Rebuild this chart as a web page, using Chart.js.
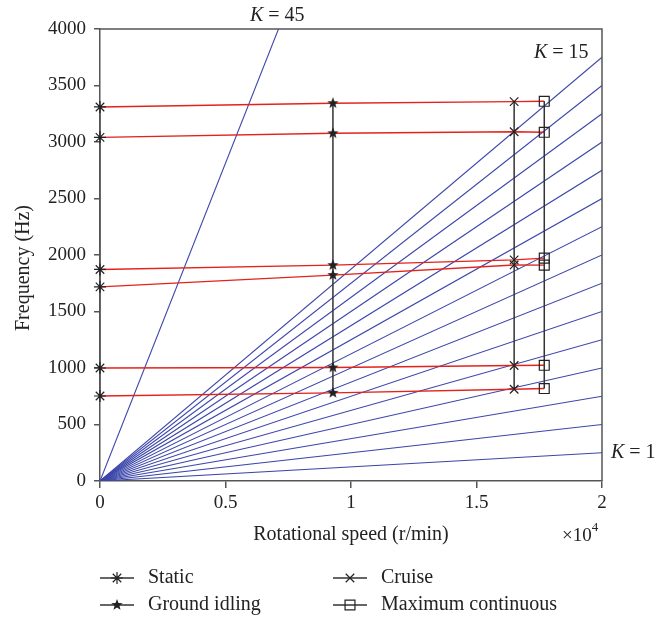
<!DOCTYPE html>
<html>
<head>
<meta charset="utf-8">
<script src="https://cdn.jsdelivr.net/npm/chart.js@4.4.1/dist/chart.umd.min.js"></script>
<style>
 html, body { margin: 0; padding: 0; background: #fff; }
 #wrap { width: 656px; height: 622px; }
</style>
</head>
<body>
<div id="wrap"><canvas id="campbell" width="656" height="622"></canvas></div>
<script>
// operating conditions and their rotational speeds (r/min)
var conditions = ['Static', 'Ground idling', 'Cruise', 'Maximum continuous'];
var speeds = [0, 9280, 16500, 17700];

// natural frequencies (Hz) of each mode at the four conditions
var mode1 = [3310, 3343, 3357, 3360];
var mode2 = [3041, 3077, 3091, 3086];
var mode3 = [1872, 1910, 1957, 1972];
var mode4 = [1718, 1822, 1912, 1910];
var mode5 = [1000, 1004, 1022, 1024];
var mode6 = [752, 780, 812, 818];
var modes = [mode1, mode2, mode3, mode4, mode5, mode6];

// excitation orders K and their frequency at 20000 r/min
var orders = [1, 2, 3, 4, 5, 6, 7, 8, 9, 10, 11, 12, 13, 14, 15, 45];
var orderEndFreq = [250, 500, 750, 1000, 1250, 1500, 1750, 2000, 2250, 2500, 2750, 3000, 3250, 3500, 3750, 11250];
var speedMax = 20000;

var yTicks = [0, 500, 1000, 1500, 2000, 2500, 3000, 3500, 4000];
var xTicks = [0, 5000, 10000, 15000, 20000];

var serif = '"Liberation Serif", "Times New Roman", serif';
var blue = '#3c46aa';
var red = '#e3231b';
var black = '#333';
var axisGrey = '#555';

// small filled five-point star for ground idling
function makeStar(r) {
  var c = document.createElement('canvas');
  var s = Math.ceil(r * 2 + 2);
  c.width = s; c.height = s;
  var g = c.getContext('2d');
  g.fillStyle = '#222';
  g.beginPath();
  for (var i = 0; i < 10; i++) {
    var rad = i % 2 === 0 ? r : r * 0.42;
    var a = -Math.PI / 2 + i * Math.PI / 5;
    var px = s / 2 + rad * Math.cos(a), py = s / 2 + rad * Math.sin(a);
    if (i === 0) g.moveTo(px, py); else g.lineTo(px, py);
  }
  g.closePath();
  g.fill();
  return c;
}
var starImg = makeStar(6);

var markers = ['star', starImg, 'crossRot', 'rect'];
var markerRadius = [6, 6, 6, 7];
var condLineColor = [axisGrey, black, black, black];

var datasets = [];

// K order lines
orders.forEach(function (k, i) {
  datasets.push({
    label: 'K = ' + k,
    data: [{x: 0, y: 0}, {x: speedMax, y: orderEndFreq[i]}],
    borderColor: blue,
    borderWidth: 1.1,
    pointRadius: 0,
    order: 3
  });
});

// red mode lines
modes.forEach(function (m, i) {
  datasets.push({
    label: 'Mode ' + (i + 1),
    data: speeds.map(function (s, j) { return {x: s, y: m[j]}; }),
    borderColor: red,
    borderWidth: 1.4,
    pointRadius: 0,
    order: 2
  });
});

// condition series (vertical black lines with markers)
conditions.forEach(function (name, j) {
  var pts = modes.map(function (m) { return {x: speeds[j], y: m[j]}; });
  pts.sort(function (a, b) { return a.y - b.y; });
  datasets.push({
    label: name,
    data: pts,
    borderColor: condLineColor[j],
    borderWidth: 1.5,
    pointStyle: markers[j],
    pointRadius: markerRadius[j],
    pointBorderColor: '#222',
    pointBackgroundColor: 'rgba(0,0,0,0)',
    pointBorderWidth: 1.2,
    clip: false,
    order: 1
  });
});

var extras = {
  id: 'extras',
  afterDraw: function (chart) {
    var ctx = chart.ctx, a = chart.chartArea;
    ctx.save();
    // frame top and right
    ctx.strokeStyle = axisGrey;
    ctx.lineWidth = 1.5;
    ctx.beginPath();
    ctx.moveTo(a.left, a.top);
    ctx.lineTo(a.right, a.top);
    ctx.lineTo(a.right, a.bottom);
    ctx.stroke();

    ctx.fillStyle = '#222';
    ctx.textBaseline = 'alphabetic';
    function kLabel(x, y, val) {
      ctx.font = 'italic 20px ' + serif;
      ctx.textAlign = 'left';
      ctx.fillText('K', x, y);
      var w = ctx.measureText('K').width;
      ctx.font = '20px ' + serif;
      ctx.fillText(' = ' + val, x + w, y);
    }
    kLabel(250, 21, '45');
    kLabel(534, 58, '15');
    kLabel(611, 458, '1');

    // x10^4 multiplier
    ctx.font = '19px ' + serif;
    ctx.textAlign = 'left';
    ctx.fillText('\u00d710', 562, 541);
    var w2 = ctx.measureText('\u00d710').width;
    ctx.font = '13px ' + serif;
    ctx.fillText('4', 562 + w2, 531);

    // y axis title
    ctx.save();
    ctx.translate(24, 268);
    ctx.rotate(-Math.PI / 2);
    ctx.font = '20px ' + serif;
    ctx.textAlign = 'center';
    ctx.textBaseline = 'middle';
    ctx.fillText('Frequency (Hz)', 0, 0);
    ctx.restore();

    // legend
    var items = [
      {x: 100, y: 578, j: 0}, {x: 100, y: 605, j: 1},
      {x: 333, y: 578, j: 2}, {x: 333, y: 605, j: 3}
    ];
    items.forEach(function (it) {
      ctx.strokeStyle = black;
      ctx.lineWidth = 1.3;
      ctx.beginPath();
      ctx.moveTo(it.x, it.y);
      ctx.lineTo(it.x + 34, it.y);
      ctx.stroke();
      ctx.strokeStyle = '#222';
      ctx.fillStyle = 'rgba(0,0,0,0)';
      ctx.lineWidth = 1.2;
      Chart.helpers.drawPoint(ctx, {
        pointStyle: markers[it.j],
        radius: markerRadius[it.j],
        rotation: 0,
        borderWidth: 1.2
      }, it.x + 17, it.y);
      ctx.fillStyle = '#222';
      ctx.font = '20px ' + serif;
      ctx.textAlign = 'left';
      ctx.textBaseline = 'middle';
      ctx.fillText(conditions[it.j], it.x + 48, it.y);
    });
    ctx.restore();
  }
};

var config = {
  type: 'line',
  data: { datasets: datasets },
  options: {
    responsive: false,
    animation: false,
    layout: { padding: { left: 0, top: 29, right: 54, bottom: 71 } },
    plugins: {
      legend: { display: false },
      tooltip: { enabled: false }
    },
    scales: {
      x: {
        type: 'linear',
        min: 0,
        max: speedMax,
        afterBuildTicks: function (s) { s.ticks = xTicks.map(function (v) { return {value: v}; }); },
        afterFit: function (s) { s.height = 70; },
        ticks: {
          color: '#222',
          font: { family: serif, size: 19 },
          padding: 4,
          maxRotation: 0,
          callback: function (v) { return String(v / 10000); }
        },
        grid: { drawOnChartArea: false, tickLength: 7, color: axisGrey, lineWidth: 1.5 },
        border: { display: true, color: axisGrey, width: 1.5 },
        title: {
          display: true,
          text: 'Rotational speed (r/min)',
          color: '#222',
          font: { family: serif, size: 20 },
          padding: { top: 0, bottom: 4 }
        }
      },
      y: {
        type: 'linear',
        min: 0,
        max: 4000,
        afterBuildTicks: function (s) { s.ticks = yTicks.map(function (v) { return {value: v}; }); },
        afterFit: function (s) { s.width = 100; },
        ticks: {
          color: '#222',
          font: { family: serif, size: 19 },
          padding: 8,
          callback: function (v) { return String(v); }
        },
        grid: { drawOnChartArea: false, tickLength: 6, color: axisGrey, lineWidth: 1.5 },
        border: { display: true, color: axisGrey, width: 1.5 },
        title: { display: false }
      }
    }
  },
  plugins: [extras]
};

window.onload = function () {
  var ctx = document.getElementById('campbell').getContext('2d');
  window.campbell = new Chart(ctx, config);
};
</script>
</body>
</html>
